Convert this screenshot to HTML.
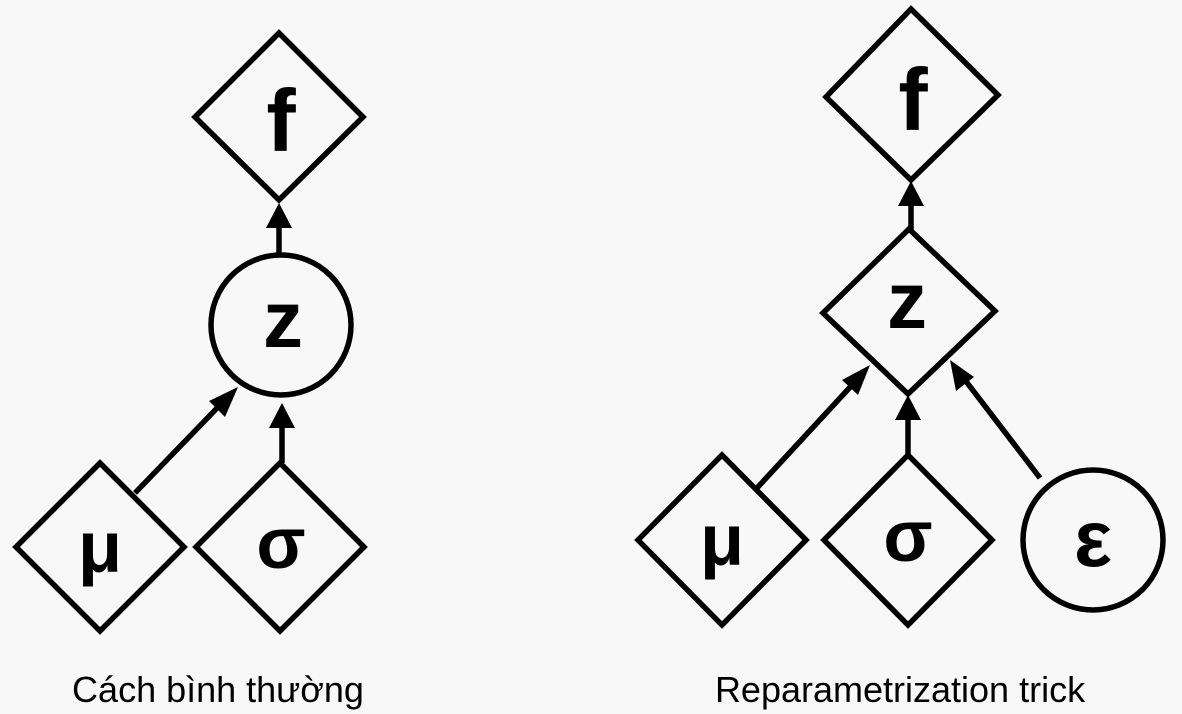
<!DOCTYPE html>
<html><head><meta charset="utf-8"><style>
html,body{margin:0;padding:0;background:#f8f8f8;}
svg{display:block;}
text{font-family:"Liberation Sans",sans-serif;}
</style></head><body>
<svg width="1182" height="714" viewBox="0 0 1182 714">
<g stroke="#000" stroke-width="5.5" fill="none">
<polygon points="279,33 363,117 279,200 195,117"/>
<circle cx="281" cy="325" r="70"/>
<polygon points="100,463 184,547 100,631 16,547"/>
<polygon points="280,463 364,547 280,631 196,547"/>
<line x1="279" y1="255" x2="279" y2="222"/>
<line x1="282" y1="463" x2="282" y2="425"/>
<line x1="135" y1="493" x2="220" y2="405"/>
<polygon points="911,9 998,95 911,180 826,97"/>
<polygon points="909,229 995,311 908,394 823,313"/>
<polygon points="722,455 806,540 722,625 638,540"/>
<polygon points="908,455 992,540 908,625 824,540"/>
<circle cx="1093" cy="540" r="70"/>
<line x1="911" y1="230" x2="911" y2="200"/>
<line x1="908" y1="455" x2="908" y2="415"/>
<line x1="757" y1="488" x2="853" y2="384"/>
<line x1="1040" y1="478" x2="965" y2="380"/>
</g>
<g fill="#000">
<polygon points="279,203 266,228 292,228"/>
<polygon points="282,403 269,428 295,428"/>
<polygon points="238,387 209,401 225,417"/>
<polygon points="911,181 898,206 924,206"/>
<polygon points="908,395 895,420 921,420"/>
<polygon points="870,365 842,380 858,395"/>
<polygon points="950,360 956,391 974,377"/>
</g>
<g font-weight="bold" text-anchor="middle" fill="#000">
<text x="281" y="151" font-size="88">f</text>
<text x="283" y="347" font-size="80">z</text>
<text x="100" y="572" font-size="72">μ</text>
<text x="281" y="568" font-size="72">σ</text>
<text x="913" y="130" font-size="88">f</text>
<text x="907" y="328" font-size="80">z</text>
<text x="722" y="565" font-size="72">μ</text>
<text x="908" y="561" font-size="72">σ</text>
<text x="1093" y="566" font-size="80">ε</text>
</g>
<text x="218" y="702" font-size="36" text-anchor="middle">Cách bình thường</text>
<text x="900" y="702" font-size="36" text-anchor="middle">Reparametrization trick</text>
</svg>
</body></html>
